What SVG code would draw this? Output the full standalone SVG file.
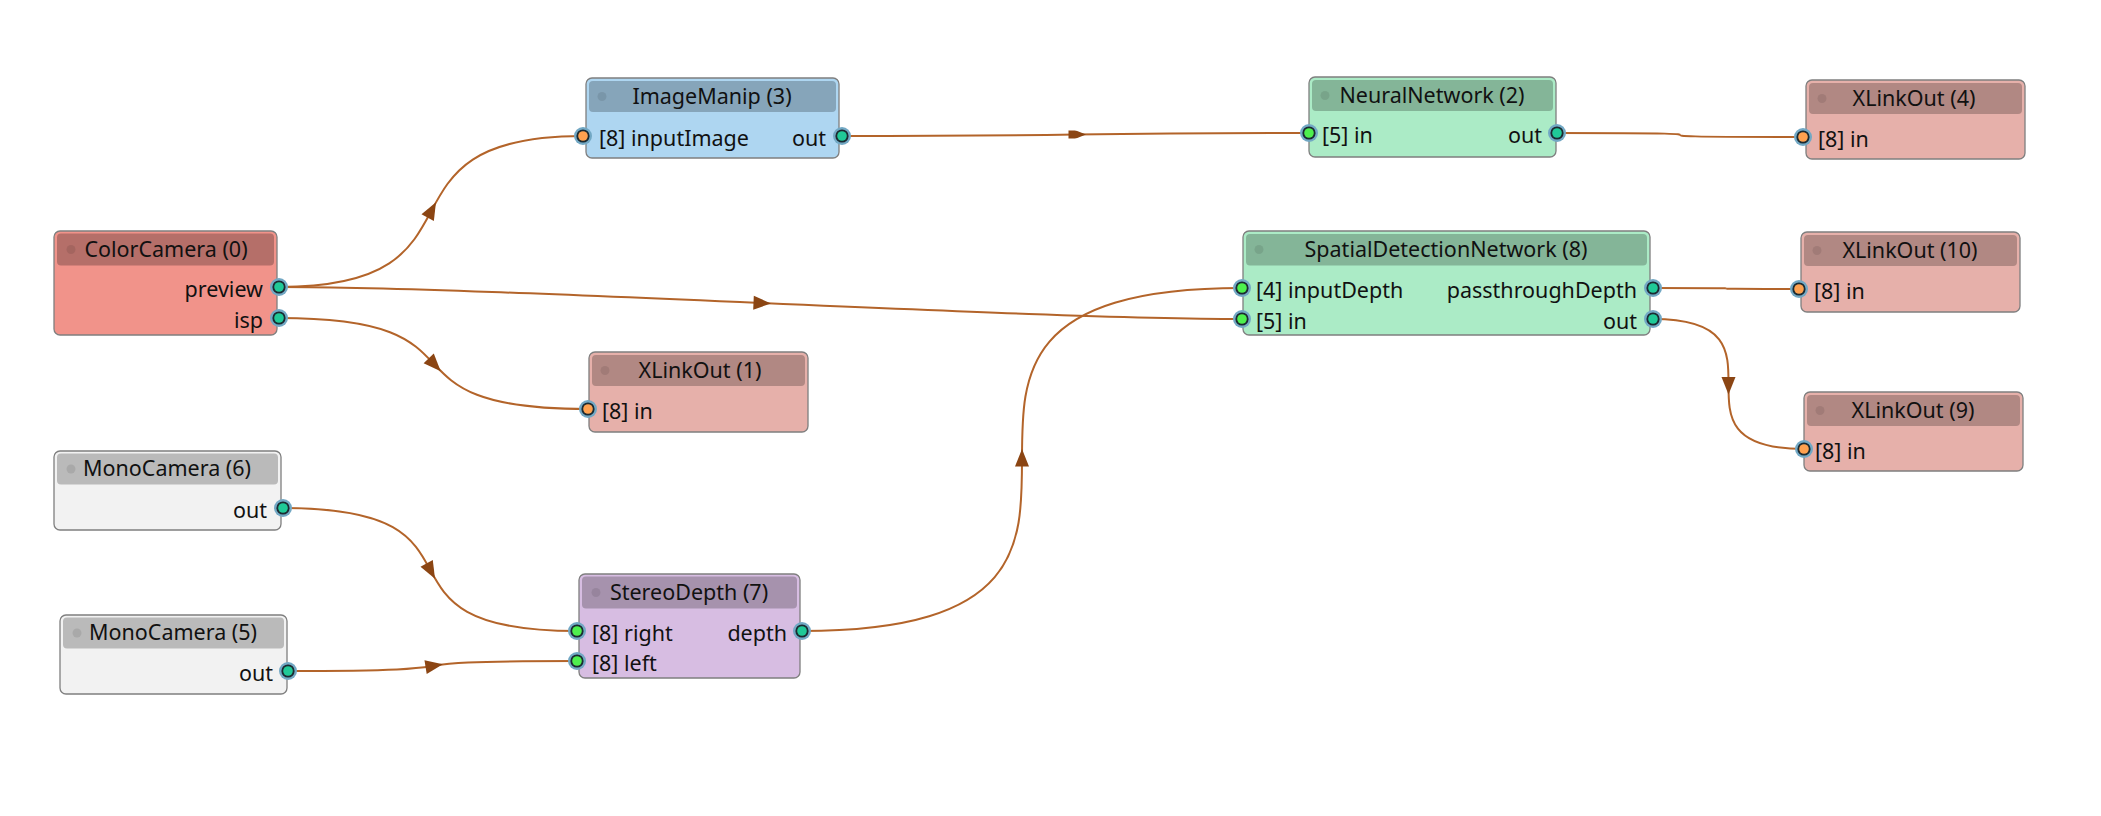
<svg xmlns="http://www.w3.org/2000/svg" xmlns:xlink="http://www.w3.org/1999/xlink" width="2101" height="816" viewBox="0 0 2101 816">
<style>
  text { font-family: "Noto Sans", "Open Sans", "DejaVu Sans", sans-serif; font-size: 21.5px; fill: #111; }
  .t { text-anchor: middle; }
  .r { text-anchor: end; }
  .box { stroke: #7f7f7f; stroke-width: 1.3; }
  .hdr { stroke: none; }
  .dot { fill: #000; opacity: 0.09; }
  .pipe { fill: none; stroke: #b3642a; stroke-width: 2; }
  .arr { fill: #8b4513; }
  .cc { fill: #f1938a; } .cch { fill: #b56f69; }
  .im { fill: #aed6f1; } .imh { fill: #86a5ba; }
  .nn { fill: #abebc6; } .nnh { fill: #84b598; }
  .xl { fill: #e6b0aa; } .xlh { fill: #b18883; }
  .mc { fill: #f2f2f2; } .mch { fill: #bababa; }
  .sd { fill: #d7bde2; } .sdh { fill: #a692ad; }
</style>
<defs>
  <g id="po"><circle r="9" fill="#72a8c4"/><circle r="6.6" fill="#1b2a31"/><circle r="4.8" fill="#20c997"/></g>
  <g id="pi"><circle r="9" fill="#72a8c4"/><circle r="6.6" fill="#1b2a31"/><circle r="4.8" fill="#ffa14f"/></g>
  <g id="pg"><circle r="9" fill="#72a8c4"/><circle r="6.6" fill="#1b2a31"/><circle r="4.8" fill="#4ef04e"/></g>
  <path id="arr" d="M10.5,0 L-7,-7 L-7,7 Z"/>
  <clipPath id="clipIM"><rect x="1040" y="130.5" width="80" height="8"/></clipPath>
</defs>
<rect width="2101" height="816" fill="#ffffff"/>

<g id="connectors">
  <path class="pipe" d="M279,287 C502,287 360,136 583,136"/>
  <use href="#arr" class="arr" transform="translate(431,211.5) rotate(-61.8)"/>
  <path class="pipe" d="M279,287 C502,287 1019,319 1242,319"/>
  <use href="#arr" class="arr" transform="translate(760.5,303) rotate(2.5)"/>
  <path class="pipe" d="M279,318 C502,318 365,409 588,409"/>
  <use href="#arr" class="arr" transform="translate(433.5,363.5) rotate(46.6)"/>
  <path class="pipe" d="M842,136 C1095,136 1056,133 1309,133"/>
  <g clip-path="url(#clipIM)"><use href="#arr" class="arr" transform="translate(1075.5,134.5) rotate(-0.4)"/></g>
  <path class="pipe" d="M1557,133 C1803,133 1557,137 1803,137"/>
  <path class="pipe" d="M1653,288 C1799,288 1653,289 1799,289"/>
  <path class="pipe" d="M1653,319 C1804,319 1653,449 1804,449"/>
  <use href="#arr" class="arr" transform="translate(1728.5,384) rotate(90)"/>
  <path class="pipe" d="M283,508 C510,508 350,631 577,631"/>
  <use href="#arr" class="arr" transform="translate(430,569.5) rotate(61.4)"/>
  <path class="pipe" d="M288,671 C515,671 350,661 577,661"/>
  <use href="#arr" class="arr" transform="translate(432.5,666) rotate(-9.2)"/>
  <path class="pipe" d="M802,631 C1242,631 802,288 1242,288"/>
  <use href="#arr" class="arr" transform="translate(1022,459.5) rotate(-90)"/>
</g>

<g id="node-colorcamera-0">
  <rect class="box cc" x="54" y="231" width="223" height="104" rx="6"/>
  <rect class="hdr cch" x="57" y="233.5" width="217" height="32" rx="4"/>
  <circle class="dot" cx="71" cy="249.5" r="4.5"/>
  <text class="t" x="166" y="256.5">ColorCamera (0)</text>
  <text class="r" x="263" y="297">preview</text>
  <text class="r" x="263" y="328">isp</text>
  <use href="#po" x="279" y="287"/>
  <use href="#po" x="279" y="318"/>
</g>

<g id="node-imagemanip-3">
  <rect class="box im" x="586" y="78" width="253" height="80" rx="6"/>
  <rect class="hdr imh" x="589" y="81" width="247" height="31" rx="4"/>
  <circle class="dot" cx="602" cy="96.5" r="4.5"/>
  <text class="t" x="712" y="103.5">ImageManip (3)</text>
  <text x="599" y="146">[8] inputImage</text>
  <text class="r" x="826" y="146">out</text>
  <use href="#pi" x="583" y="136"/>
  <use href="#po" x="842" y="136"/>
</g>

<g id="node-neuralnetwork-2">
  <rect class="box nn" x="1309" y="77" width="247" height="80" rx="6"/>
  <rect class="hdr nnh" x="1312" y="80" width="241" height="31" rx="4"/>
  <circle class="dot" cx="1325" cy="95.5" r="4.5"/>
  <text class="t" x="1432" y="102.5">NeuralNetwork (2)</text>
  <text x="1322" y="143">[5] in</text>
  <text class="r" x="1542" y="143">out</text>
  <use href="#pg" x="1309" y="133"/>
  <use href="#po" x="1557" y="133"/>
</g>

<g id="node-xlinkout-4">
  <rect class="box xl" x="1806" y="80" width="219" height="79" rx="6"/>
  <rect class="hdr xlh" x="1809" y="83" width="213" height="31" rx="4"/>
  <circle class="dot" cx="1822" cy="98.5" r="4.5"/>
  <text class="t" x="1914" y="105.5">XLinkOut (4)</text>
  <text x="1818" y="147">[8] in</text>
  <use href="#pi" x="1803" y="137"/>
</g>

<g id="node-spatialdetectionnetwork-8">
  <rect class="box nn" x="1243" y="231" width="407" height="104" rx="6"/>
  <rect class="hdr nnh" x="1246" y="234" width="401" height="31.5" rx="4"/>
  <circle class="dot" cx="1259" cy="249.5" r="4.5"/>
  <text class="t" x="1446" y="256.5">SpatialDetectionNetwork (8)</text>
  <text x="1256" y="298">[4] inputDepth</text>
  <text x="1256" y="329">[5] in</text>
  <text class="r" x="1637" y="298">passthroughDepth</text>
  <text class="r" x="1637" y="329">out</text>
  <use href="#pg" x="1242" y="288"/>
  <use href="#pg" x="1242" y="319"/>
  <use href="#po" x="1653" y="288"/>
  <use href="#po" x="1653" y="319"/>
</g>

<g id="node-xlinkout-10">
  <rect class="box xl" x="1801" y="232" width="219" height="80" rx="6"/>
  <rect class="hdr xlh" x="1804" y="235" width="213" height="31" rx="4"/>
  <circle class="dot" cx="1817" cy="250.5" r="4.5"/>
  <text class="t" x="1910" y="257.5">XLinkOut (10)</text>
  <text x="1814" y="299">[8] in</text>
  <use href="#pi" x="1799" y="289"/>
</g>

<g id="node-xlinkout-9">
  <rect class="box xl" x="1804" y="392" width="219" height="79" rx="6"/>
  <rect class="hdr xlh" x="1807" y="395" width="213" height="31" rx="4"/>
  <circle class="dot" cx="1820" cy="410.5" r="4.5"/>
  <text class="t" x="1913" y="417.5">XLinkOut (9)</text>
  <text x="1815" y="459">[8] in</text>
  <use href="#pi" x="1804" y="449"/>
</g>

<g id="node-xlinkout-1">
  <rect class="box xl" x="589" y="352" width="219" height="80" rx="6"/>
  <rect class="hdr xlh" x="592" y="355" width="213" height="31" rx="4"/>
  <circle class="dot" cx="605" cy="370.5" r="4.5"/>
  <text class="t" x="700" y="377.5">XLinkOut (1)</text>
  <text x="602" y="419">[8] in</text>
  <use href="#pi" x="588" y="409"/>
</g>

<g id="node-monocamera-6">
  <rect class="box mc" x="54" y="451" width="227" height="79" rx="6"/>
  <rect class="hdr mch" x="57" y="453.5" width="221" height="31" rx="4"/>
  <circle class="dot" cx="71" cy="469" r="4.5"/>
  <text class="t" x="167" y="475.5">MonoCamera (6)</text>
  <text class="r" x="267" y="518">out</text>
  <use href="#po" x="283" y="508"/>
</g>

<g id="node-monocamera-5">
  <rect class="box mc" x="60" y="615" width="227" height="79" rx="6"/>
  <rect class="hdr mch" x="63" y="617.5" width="221" height="31" rx="4"/>
  <circle class="dot" cx="77" cy="633" r="4.5"/>
  <text class="t" x="173" y="639.5">MonoCamera (5)</text>
  <text class="r" x="273" y="681">out</text>
  <use href="#po" x="288" y="671"/>
</g>

<g id="node-stereodepth-7">
  <rect class="box sd" x="579" y="574" width="221" height="104" rx="6"/>
  <rect class="hdr sdh" x="582" y="576.5" width="215" height="32" rx="4"/>
  <circle class="dot" cx="596" cy="592.5" r="4.5"/>
  <text class="t" x="689" y="599.5">StereoDepth (7)</text>
  <text x="592" y="641">[8] right</text>
  <text x="592" y="671">[8] left</text>
  <text class="r" x="787" y="641">depth</text>
  <use href="#pg" x="577" y="631"/>
  <use href="#pg" x="577" y="661"/>
  <use href="#po" x="802" y="631"/>
</g>
</svg>
